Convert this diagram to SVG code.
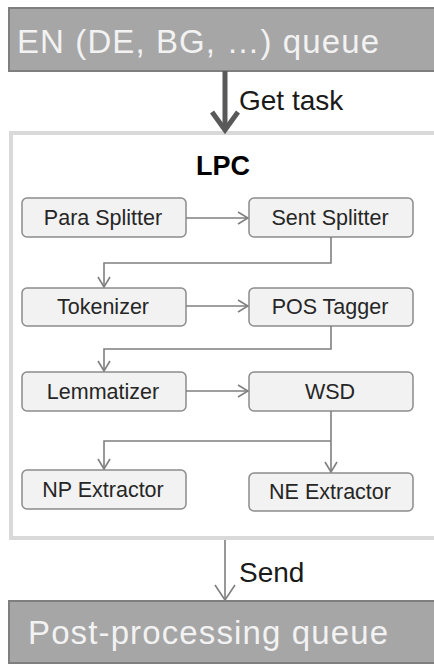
<svg xmlns="http://www.w3.org/2000/svg" width="434" height="664" viewBox="0 0 434 664">
<defs>
<marker id="ah" viewBox="0 0 12 14" refX="11" refY="7" markerWidth="12" markerHeight="14" markerUnits="userSpaceOnUse" orient="auto">
<path d="M1,1 L11,7 L1,13" fill="none" stroke="#7f7f7f" stroke-width="1.6"/>
</marker>
<marker id="ahs" viewBox="0 0 18 22" refX="16" refY="11" markerWidth="18" markerHeight="22" markerUnits="userSpaceOnUse" orient="auto">
<path d="M1,1 L16,11 L1,21" fill="none" stroke="#7f7f7f" stroke-width="1.6"/>
</marker>
<marker id="ahb" viewBox="0 0 24 30" refX="20" refY="15" markerWidth="24" markerHeight="30" markerUnits="userSpaceOnUse" orient="auto">
<path d="M2,2 L20,15 L2,28" fill="none" stroke="#595959" stroke-width="5"/>
</marker>
</defs>
<style>
.q{fill:#a6a6a6;stroke:#7f7f7f;stroke-width:2}
.qt{font-family:"Liberation Sans",Arial,sans-serif;font-size:33px;fill:#f2f2f2;text-anchor:middle}
.b{fill:#f2f2f2;stroke:#8c8c8c;stroke-width:1.5}
.bt{font-family:"Liberation Sans",Arial,sans-serif;font-size:21.5px;fill:#262626;text-anchor:middle}
.lbl{font-family:"Liberation Sans",Arial,sans-serif;font-size:28px;fill:#1a1a1a}
.c{fill:none;stroke:#7f7f7f;stroke-width:1.6}
</style>
<rect width="434" height="664" fill="#ffffff"/>
<g id="lpc">
<rect x="11" y="133" width="440" height="405" fill="#ffffff" stroke="#d9d9d9" stroke-width="4"/>
<text x="223" y="175" font-family="'Liberation Sans',Arial,sans-serif" font-size="27" font-weight="bold" fill="#000000" text-anchor="middle">LPC</text>
</g>
<g id="en-queue">
<rect class="q" x="9" y="8" width="440" height="63"/>
<text class="qt" x="198" y="53" textLength="362">EN (DE, BG, …) queue</text>
</g>
<g id="post-queue">
<rect class="q" x="9" y="601" width="440" height="62"/>
<text class="qt" x="208" y="644" textLength="360">Post-processing queue</text>
</g>
<g id="para-splitter"><rect class="b" x="22" y="198" width="164" height="39" rx="5"/><text class="bt" x="103" y="225">Para Splitter</text></g>
<g id="sent-splitter"><rect class="b" x="249" y="198" width="164" height="39" rx="5"/><text class="bt" x="330" y="225">Sent Splitter</text></g>
<g id="tokenizer"><rect class="b" x="22" y="288" width="164" height="38" rx="5"/><text class="bt" x="103" y="314">Tokenizer</text></g>
<g id="pos-tagger"><rect class="b" x="249" y="288" width="164" height="38" rx="5"/><text class="bt" x="330" y="314">POS Tagger</text></g>
<g id="lemmatizer"><rect class="b" x="22" y="372" width="164" height="39" rx="5"/><text class="bt" x="103" y="399">Lemmatizer</text></g>
<g id="wsd"><rect class="b" x="249" y="372" width="164" height="39" rx="5"/><text class="bt" x="330" y="399">WSD</text></g>
<g id="np-extractor"><rect class="b" x="22" y="470" width="164" height="39" rx="5"/><text class="bt" x="103" y="497">NP Extractor</text></g>
<g id="ne-extractor"><rect class="b" x="249" y="473" width="164" height="38" rx="5"/><text class="bt" x="330" y="499">NE Extractor</text></g>
<g id="connectors">
<path d="M225,71 L225,130" fill="none" stroke="#595959" stroke-width="5" marker-end="url(#ahb)"/>
<text class="lbl" x="239" y="110">Get task</text>
<path d="M225,540 L225,600" class="c" marker-end="url(#ahs)"/>
<text class="lbl" x="239" y="582">Send</text>
<path d="M186,218 L248,218" class="c" marker-end="url(#ah)"/>
<path d="M331,237 L331,263 L104,263 L104,287" class="c" marker-end="url(#ah)"/>
<path d="M186,306 L248,306" class="c" marker-end="url(#ah)"/>
<path d="M331,326 L331,349 L104,349 L104,371" class="c" marker-end="url(#ah)"/>
<path d="M186,391 L248,391" class="c" marker-end="url(#ah)"/>
<path d="M331,411 L331,472" class="c" marker-end="url(#ah)"/>
<path d="M331,441 L104,441 L104,469" class="c" marker-end="url(#ah)"/>
</g>
</svg>
